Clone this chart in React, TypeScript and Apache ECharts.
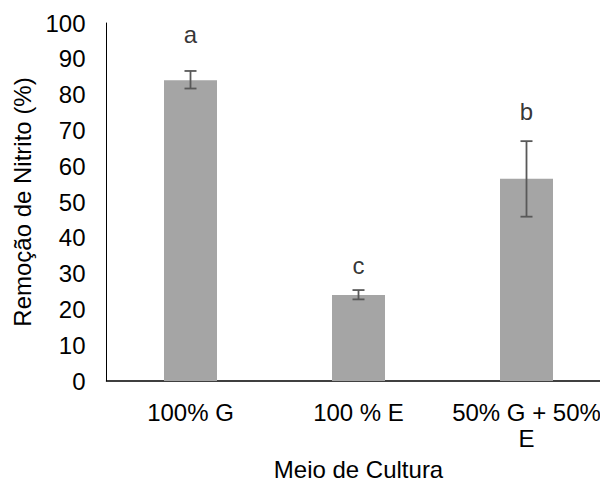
import React, { useEffect, useRef } from "react";
import * as echarts from "echarts";

const categories = ["100% G", "100 % E", "50% G + 50% E"];
const means = [84, 24, 56.5];
const errLow = [81.7, 22.8, 45.9];
const errHigh = [86.6, 25.4, 67.0];
const letters = ["a", "c", "b"];
const letterPos = [96.8, 32.4, 75.4];
const yTicks = { min: 0, max: 100, interval: 10 };

const FONT = "Liberation Sans, Arial, sans-serif";

export default function App() {
  const ref = useRef<HTMLDivElement>(null);
  useEffect(() => {
    if (!ref.current) return;
    const chart = echarts.init(ref.current, null, { renderer: "svg" });
    chart.setOption({
      animation: false,
      backgroundColor: "#ffffff",
      grid: {
        left: 106.5,
        top: 23,
        width: 504,
        height: 358,
        containLabel: false,
        outerBoundsMode: "none",
      },
      xAxis: {
        type: "category",
        data: categories,
        axisLine: { lineStyle: { color: "#000", width: 1.5 } },
        axisTick: { show: false },
        axisLabel: {
          color: "#000",
          fontFamily: FONT,
          fontSize: 24,
          margin: 18,
          lineHeight: 26,
          interval: 0,
          formatter: (v: string) => {
            if (v.length > 11) {
              const i = v.lastIndexOf(" ");
              return v.slice(0, i) + "\n" + v.slice(i + 1);
            }
            return v;
          },
        },
        name: "Meio de Cultura",
        nameLocation: "middle",
        nameGap: 79,
        nameTextStyle: { color: "#000", fontFamily: FONT, fontSize: 24, lineHeight: 18 },
      },
      yAxis: {
        type: "value",
        min: yTicks.min,
        max: yTicks.max,
        interval: yTicks.interval,
        axisLine: { show: true, lineStyle: { color: "#000", width: 1 } },
        axisTick: { show: false },
        splitLine: { show: false },
        axisLabel: { color: "#000", fontFamily: FONT, fontSize: 24, margin: 21 },
        name: "Remoção de Nitrito (%)",
        nameLocation: "middle",
        nameGap: 71,
        nameRotate: 90,
        nameTextStyle: { color: "#000", fontFamily: FONT, fontSize: 24 },
      },
      series: [
        {
          type: "bar",
          data: means,
          barWidth: 53,
          itemStyle: { color: "#a5a5a5" },
        },
        {
          type: "custom",
          data: categories.map((_, i) => [i, errLow[i], errHigh[i]]),
          renderItem: (params: any, api: any) => {
            const x = api.value(0);
            const hi = api.coord([x, api.value(2)]);
            const lo = api.coord([x, api.value(1)]);
            const hw = 6;
            const style = { stroke: "#595959", lineWidth: 1.8 };
            return {
              type: "group",
              children: [
                { type: "line", shape: { x1: hi[0], y1: hi[1], x2: lo[0], y2: lo[1] }, style },
                { type: "line", shape: { x1: hi[0] - hw, y1: hi[1], x2: hi[0] + hw, y2: hi[1] }, style },
                { type: "line", shape: { x1: lo[0] - hw, y1: lo[1], x2: lo[0] + hw, y2: lo[1] }, style },
              ],
            };
          },
          z: 5,
        },
        {
          type: "scatter",
          symbolSize: 0,
          data: categories.map((_, i) => ({ value: [i, letterPos[i]], name: letters[i] })),
          label: {
            show: true,
            position: "inside",
            formatter: (p: any) => p.name,
            color: "#000",
            fontFamily: FONT,
            fontSize: 24,
          },
          z: 6,
        },
      ],
    });
    return () => chart.dispose();
  }, []);
  return <div ref={ref} style={{ width: 600, height: 483, position: "absolute", left: 0, top: 0 }} />;
}
